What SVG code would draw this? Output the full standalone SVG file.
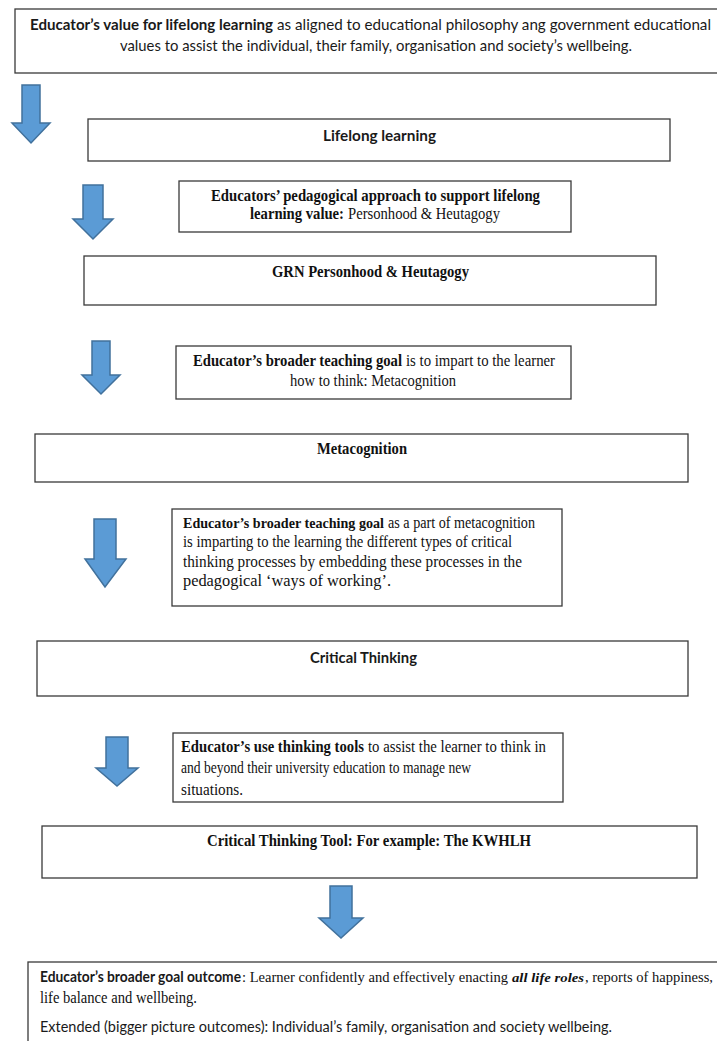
<svg xmlns="http://www.w3.org/2000/svg" width="717" height="1041" viewBox="0 0 717 1041">
  <style>
    .box { fill: #ffffff; stroke: #3a3a3a; stroke-width: 1.3; }
    .arrow { fill: #5b9bd5; stroke: #41719c; stroke-width: 1.5; stroke-linejoin: miter; }
    .sans { font-family: Lato, "Open Sans", "Liberation Sans", sans-serif; font-size: 15px; fill: #1a1a1a; }
    .serif { font-family: "Liberation Serif", "Times New Roman", serif; font-size: 16px; fill: #111111; }
    .b { font-weight: bold; }
    .bi { font-weight: bold; font-style: italic; }
    .sm { font-size: 14.5px; }
    .xs { font-size: 13.5px; }
  </style>
  <rect width="717" height="1041" fill="#ffffff"/>

  <!-- block arrows between the stages -->
  <g id="connectors">
    <polygon class="arrow" points="22,85 40,85 40,123 50,123 31,143 12,123 22,123"/>
    <polygon class="arrow" points="83,185 103,185 103,219 113,219 93,239 73,219 83,219"/>
    <polygon class="arrow" points="92,341 110,341 110,375 120,375 101,394 82,375 92,375"/>
    <polygon class="arrow" points="94,519 116,519 116,559 126,559 105,587 85,559 94,559"/>
    <polygon class="arrow" points="106,737 128,737 128,768 138,768 117,786 96,768 106,768"/>
    <polygon class="arrow" points="330,886 352,886 352,918 363,918 341,938 319,918 330,918"/>
  </g>

  <g id="value">
    <rect class="box" x="15" y="9" width="720" height="64"/>
    <text class="sans b" x="30" y="30" textLength="243" lengthAdjust="spacingAndGlyphs">Educator’s value for lifelong learning</text>
    <text class="sans" x="277" y="30" textLength="434" lengthAdjust="spacingAndGlyphs">as aligned to educational philosophy ang government educational</text>
    <text class="sans" x="120" y="51" textLength="512" lengthAdjust="spacingAndGlyphs">values to assist the individual, their family, organisation and society’s wellbeing.</text>
  </g>

  <g id="lifelong">
    <rect class="box" x="88" y="119" width="582" height="42"/>
    <text class="sans b" x="323" y="141" textLength="113" lengthAdjust="spacingAndGlyphs">Lifelong learning</text>
  </g>

  <g id="approach">
    <rect class="box" x="179" y="181" width="392" height="51"/>
    <text class="serif b" x="211" y="201" textLength="329" lengthAdjust="spacingAndGlyphs">Educators’ pedagogical approach to support lifelong</text>
    <text class="serif b" x="250" y="219" textLength="94" lengthAdjust="spacingAndGlyphs">learning value:</text>
    <text class="serif" x="348" y="219" textLength="152" lengthAdjust="spacingAndGlyphs">Personhood &amp; Heutagogy</text>
  </g>

  <g id="grn">
    <rect class="box" x="84" y="256" width="572" height="49"/>
    <text class="serif b" x="272" y="277" textLength="197" lengthAdjust="spacingAndGlyphs">GRN Personhood &amp; Heutagogy</text>
  </g>

  <g id="goal-think">
    <rect class="box" x="176" y="346" width="395" height="53"/>
    <text class="serif b" x="193" y="366" textLength="209" lengthAdjust="spacingAndGlyphs">Educator’s broader teaching goal</text>
    <text class="serif" x="406" y="366" textLength="149" lengthAdjust="spacingAndGlyphs">is to impart to the learner</text>
    <text class="serif" x="290" y="386" textLength="166" lengthAdjust="spacingAndGlyphs">how to think: Metacognition</text>
  </g>

  <g id="metacognition">
    <rect class="box" x="35" y="434" width="653" height="48"/>
    <text class="serif b" x="317" y="454" textLength="90" lengthAdjust="spacingAndGlyphs">Metacognition</text>
  </g>

  <g id="goal-critical">
    <rect class="box" x="172" y="509" width="390" height="97"/>
    <text class="serif b sm" x="183" y="528" textLength="201" lengthAdjust="spacingAndGlyphs">Educator’s broader teaching goal</text>
    <text class="serif" x="388" y="528" textLength="147" lengthAdjust="spacingAndGlyphs">as a part of metacognition</text>
    <text class="serif" x="183" y="547" textLength="329" lengthAdjust="spacingAndGlyphs">is imparting to the learning the different types of critical</text>
    <text class="serif" x="183" y="567" textLength="339" lengthAdjust="spacingAndGlyphs">thinking processes by embedding these processes in the</text>
    <text class="serif" x="183" y="586" textLength="208" lengthAdjust="spacingAndGlyphs">pedagogical ‘ways of working’.</text>
  </g>

  <g id="critical-thinking">
    <rect class="box" x="37" y="641" width="651" height="55"/>
    <text class="sans b" x="310" y="663" textLength="107" lengthAdjust="spacingAndGlyphs">Critical Thinking</text>
  </g>

  <g id="tools">
    <rect class="box" x="173" y="733" width="390" height="69"/>
    <text class="serif b" x="181" y="752" textLength="183" lengthAdjust="spacingAndGlyphs">Educator’s use thinking tools</text>
    <text class="serif" x="368" y="752" textLength="178" lengthAdjust="spacingAndGlyphs">to assist the learner to think in</text>
    <text class="serif" x="181" y="773" textLength="290" lengthAdjust="spacingAndGlyphs">and beyond their university education to manage new</text>
    <text class="serif" x="181" y="795" textLength="62" lengthAdjust="spacingAndGlyphs">situations.</text>
  </g>

  <g id="kwhlh">
    <rect class="box" x="42" y="826" width="655" height="52"/>
    <text class="serif b" x="207" y="846" textLength="324" lengthAdjust="spacingAndGlyphs">Critical Thinking Tool: For example: The KWHLH</text>
  </g>

  <g id="outcome">
    <rect class="box" x="28" y="962" width="710" height="100"/>
    <text class="sans b" x="40" y="982" textLength="201" lengthAdjust="spacingAndGlyphs">Educator’s broader goal outcome</text>
    <text class="serif sm" x="242" y="982" textLength="266" lengthAdjust="spacingAndGlyphs">: Learner confidently and effectively enacting</text>
    <text class="serif bi xs" x="512" y="982" textLength="72" lengthAdjust="spacingAndGlyphs">all life roles</text>
    <text class="serif sm" x="585" y="982" textLength="128" lengthAdjust="spacingAndGlyphs">, reports of happiness,</text>
    <text class="serif" x="40" y="1003" textLength="157" lengthAdjust="spacingAndGlyphs">life balance and wellbeing.</text>
    <text class="sans" x="40" y="1032" textLength="572" lengthAdjust="spacingAndGlyphs">Extended (bigger picture outcomes): Individual’s family, organisation and society wellbeing.</text>
  </g>
</svg>
